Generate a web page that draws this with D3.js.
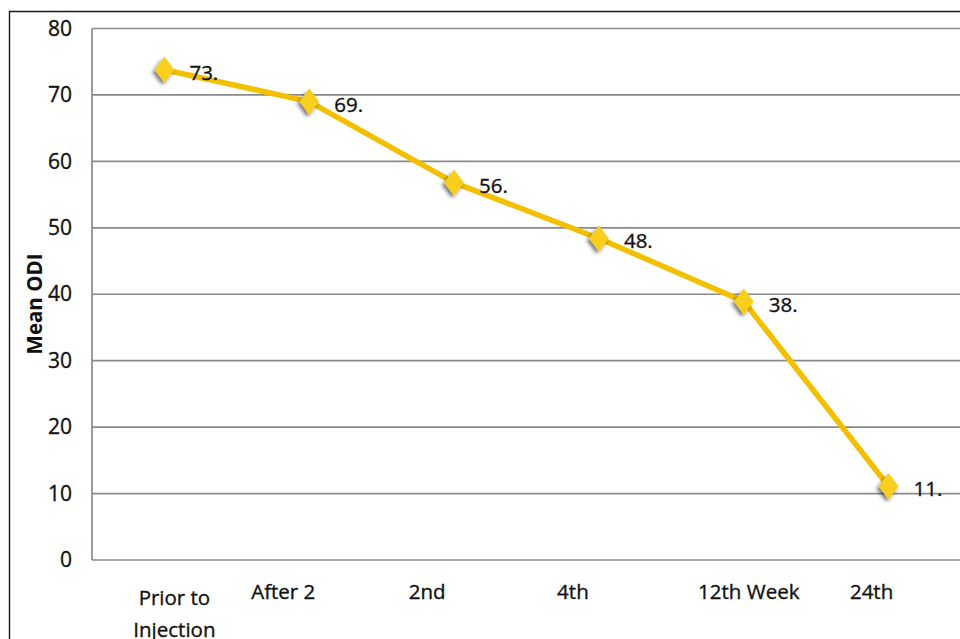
<!DOCTYPE html>
<html>
<head>
<meta charset="utf-8">
<script src="https://cdn.jsdelivr.net/npm/d3@7"></script>
<style>
  html, body { margin: 0; padding: 0; background: #fff; }
  svg { display: block; }
  text { paint-order: stroke; }
</style>
</head>
<body>
<script>
// Mean ODI over the follow-up visits
const categories = [["Prior to", "Injection"], ["After 2"], ["2nd"], ["4th"], ["12th Week"], ["24th"]];
const meanODI = [73.8, 69.0, 56.8, 48.4, 38.9, 11.1];
const yTicks = [0, 10, 20, 30, 40, 50, 60, 70, 80];

// Layout
const W = 960, H = 639;
const plot = { left: 92, right: 961, top: 28.5, bottom: 560 };
const labelNudge = [10, -26, -27, -26, 5, -17];
const font = "'Open Sans', 'Liberation Sans', sans-serif";
const ink = "#111";

const svg = d3.select("body").append("svg")
  .attr("width", W).attr("height", H);

const defs = svg.append("defs");
const shadow = defs.append("filter").attr("id", "markerShadow")
  .attr("x", "-60%").attr("y", "-60%").attr("width", "220%").attr("height", "220%");
shadow.append("feDropShadow")
  .attr("dx", -1.5).attr("dy", 2.5).attr("stdDeviation", 1.6)
  .attr("flood-color", "#000").attr("flood-opacity", 0.55);

// Outer frame (top and left edges)
svg.append("path")
  .attr("d", `M9.5,${H} V11.5 H${W}`)
  .attr("fill", "none").attr("stroke", "#1a1a1a").attr("stroke-width", 1.4);

const x = d3.scalePoint()
  .domain(d3.range(categories.length))
  .range([plot.left, plot.right])
  .padding(0.5);

const y = d3.scaleLinear().domain([0, 80]).range([plot.bottom, plot.top]);

// Horizontal gridlines
svg.append("g").selectAll("line").data(yTicks).join("line")
  .attr("x1", plot.left).attr("x2", W)
  .attr("y1", d => y(d)).attr("y2", d => y(d))
  .attr("stroke", "#8a8a8a").attr("stroke-width", 1.7);

// Vertical axis line
svg.append("line")
  .attr("x1", plot.left).attr("x2", plot.left)
  .attr("y1", y(80)).attr("y2", y(0))
  .attr("stroke", "#8a8a8a").attr("stroke-width", 1.7);

// Y axis tick labels
const yAxis = d3.axisLeft(y).tickValues(yTicks).tickSize(0).tickPadding(20);
const yG = svg.append("g").attr("transform", `translate(${plot.left},0)`).call(yAxis);
yG.select(".domain").remove();
yG.selectAll("text")
  .attr("font-family", font).attr("font-size", 21).attr("fill", ink)
  .attr("stroke", ink).attr("stroke-width", 0.35);

// Y axis title
svg.append("text")
  .attr("transform", `translate(42,304) rotate(-90)`)
  .attr("text-anchor", "middle")
  .attr("font-family", font).attr("font-weight", "bold").attr("font-size", 20.5)
  .attr("fill", ink)
  .text("Mean ODI");

// X axis category labels
const xl = svg.append("g").selectAll("text").data(categories).join("text")
  .attr("text-anchor", "middle")
  .attr("font-family", font).attr("font-size", 20.5).attr("fill", ink)
  .attr("stroke", ink).attr("stroke-width", 0.35)
  .attr("x", (d, i) => x(i) + labelNudge[i])
  .attr("y", d => d.length > 1 ? 605 : 599);
xl.selectAll("tspan").data(d => d).join("tspan")
  .attr("x", function () { return this.parentNode.getAttribute("x"); })
  .attr("dy", (d, i) => i === 0 ? 0 : 32)
  .text(d => d);

// Series line
const line = d3.line().x((d, i) => x(i)).y(d => y(d));
svg.append("path")
  .datum(meanODI)
  .attr("d", line)
  .attr("fill", "none")
  .attr("stroke", "#F2C000")
  .attr("stroke-width", 5.5)
  .attr("stroke-linejoin", "round");

// Diamond markers
const diamond = d3.symbol().type(d3.symbolDiamond).size(200);
svg.append("g").selectAll("path").data(meanODI).join("path")
  .attr("d", diamond)
  .attr("transform", (d, i) => `translate(${x(i)},${y(d)}) scale(1.3,1)`)
  .attr("fill", "#F8CF1E")
  .attr("filter", "url(#markerShadow)");

// Value labels (whole part shown with trailing point)
svg.append("g").selectAll("text").data(meanODI).join("text")
  .attr("x", (d, i) => x(i) + 25)
  .attr("y", d => y(d) + 10)
  .attr("font-family", font).attr("font-size", 20.5).attr("fill", ink)
  .attr("stroke", ink).attr("stroke-width", 0.35)
  .text(d => Math.floor(d) + ".");
</script>
</body>
</html>
